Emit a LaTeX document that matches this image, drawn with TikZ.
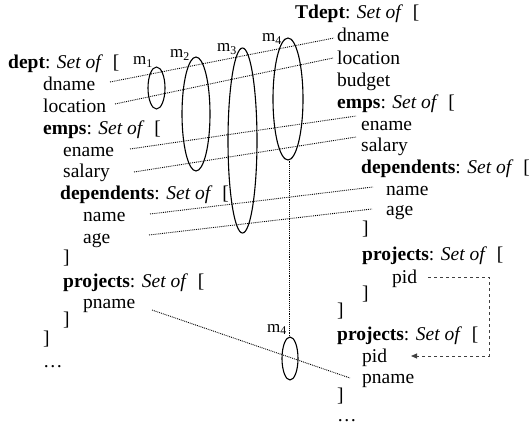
\documentclass[tikz,border=0pt]{standalone}
\usepackage{fontspec}
\setmainfont{Liberation Serif}
\usetikzlibrary{arrows.meta,shapes.geometric}
\begin{document}
\begin{tikzpicture}[x=1pt,y=-1pt,
  txt/.style={anchor=base west,inner sep=0pt,font=\fontsize{19.5}{21}\selectfont},
  lbl/.style={anchor=base west,inner sep=0pt,font=\fontsize{17}{18}\selectfont},
  map/.style={densely dotted,line width=0.9pt},
  ell/.style={draw,ellipse,inner sep=0pt,line width=1.1pt},
  fk/.style={dashed,line width=0.9pt,draw=black!75,-{Triangle[length=6pt,width=5pt]}}]
\useasboundingbox (0,0) rectangle (530,428);
% source schema
\node[txt] (sdept) at (8,68) {\textbf{dept}: \textit{Set of}\ \ [};
\node[txt] (sdname) at (43,91) {dname};
\node[txt] (sloc) at (43,112) {location};
\node[txt] (semps) at (43,134) {\textbf{emps}: \textit{Set of}\ \ [};
\node[txt] (sename) at (63,156) {ename};
\node[txt] (ssal) at (63,177) {salary};
\node[txt] (sdeps) at (60,199) {\textbf{dependents}: \textit{Set of}\ \ [};
\node[txt] (sname) at (83,221) {name};
\node[txt] (sage) at (83,243) {age};
\node[txt] (sb1) at (63,263) {]};
\node[txt] (sproj) at (63,287) {\textbf{projects}: \textit{Set of}\ \ [};
\node[txt] (spname) at (83,308) {pname};
\node[txt] (sb2) at (63,325) {]};
\node[txt] (sb3) at (43,344) {]};
\node[txt] (sdots) at (43,367) {\dots};
% target schema
\node[txt] (tdept) at (295,19) {\textbf{Tdept}: \textit{Set of}\ \ [};
\node[txt] (tdname) at (337,42) {dname};
\node[txt] (tloc) at (337,64) {location};
\node[txt] (tbud) at (337,86) {budget};
\node[txt] (temps) at (337,108) {\textbf{emps}: \textit{Set of}\ \ [};
\node[txt] (tename) at (361,130) {ename};
\node[txt] (tsal) at (361,151) {salary};
\node[txt] (tdeps) at (361,173) {\textbf{dependents}: \textit{Set of}\ \ [};
\node[txt] (tname) at (386,195) {name};
\node[txt] (tage) at (386,215) {age};
\node[txt] (tb1) at (362,234) {]};
\node[txt] (tproj) at (362,260) {\textbf{projects}: \textit{Set of}\ \ [};
\node[txt] (tpid) at (392,283) {pid};
\node[txt] (tb2) at (362,299) {]};
\node[txt] (tb3) at (337,316) {]};
\node[txt] (tproj2) at (337,340) {\textbf{projects}: \textit{Set of}\ \ [};
\node[txt] (tpid2) at (362,362) {pid};
\node[txt] (tpname) at (362,383) {pname};
\node[txt] (tb4) at (337,401) {]};
\node[txt] (tdots) at (337,421) {\dots};
% mapping lines
\coordinate (a1) at (110,82); \coordinate (b1) at (334,38);
\coordinate (a2) at (115,104); \coordinate (b2) at (333,58);
\coordinate (a3) at (130,149); \coordinate (b3) at (356,116);
\coordinate (a4) at (134,172); \coordinate (b4) at (356,137);
\coordinate (a5) at (150,214); \coordinate (b5) at (373,187);
\coordinate (a6) at (149,235); \coordinate (b6) at (372,209);
\coordinate (a7) at (152,310); \coordinate (b7) at (350,378);
\draw[map] (a1) -- (b1);
\draw[map] (a2) -- (b2);
\draw[map] (a3) -- (b3);
\draw[map] (a4) -- (b4);
\draw[map] (a5) -- (b5);
\draw[map] (a6) -- (b6);
\draw[map] (a7) -- (b7);
% ellipses
\node[ell,minimum width=17pt,minimum height=42pt] (m1) at (156.5,88) {};
\node[ell,minimum width=28pt,minimum height=114pt] (m2) at (196,114) {};
\node[ell,minimum width=29pt,minimum height=185pt] (m3) at (242.5,140.5) {};
\node[ell,minimum width=30pt,minimum height=122pt] (m4) at (288,99) {};
\node[ell,minimum width=16pt,minimum height=43pt] (m4b) at (290,358.5) {};
\draw[map] (m4.south) ++(1,0) -- (m4b.north -| 289,0);
% labels
\node[lbl] (l1) at (133,65) {m\textsubscript{1}};
\node[lbl] (l2) at (170,58) {m\textsubscript{2}};
\node[lbl] (l3) at (217,52) {m\textsubscript{3}};
\node[lbl] (l4) at (262,42) {m\textsubscript{4}};
\node[lbl] (l5) at (267,332) {m\textsubscript{4}};
% foreign key arrow
\coordinate (p1) at (428,277);
\coordinate (p2) at (489,277);
\coordinate (p3) at (489,356);
\coordinate (p4) at (411,356);
\draw[fk] (p1) -- (p2) -- (p3) -- (p4);
\end{tikzpicture}
\end{document}
